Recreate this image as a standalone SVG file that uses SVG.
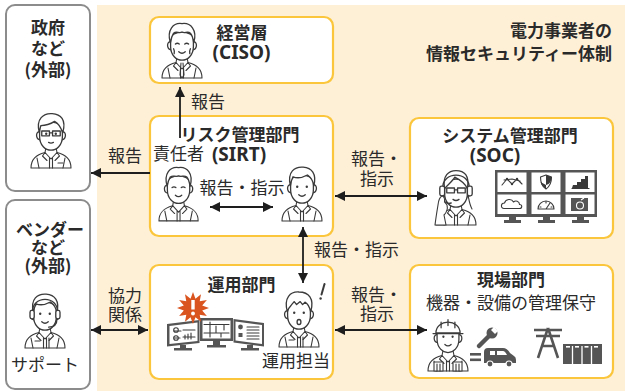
<svg xmlns="http://www.w3.org/2000/svg" xmlns:xlink="http://www.w3.org/1999/xlink" width="625" height="391" viewBox="0 0 625 391">
  <style>
    .t { font-family: "Noto Sans CJK JP", "Noto Sans", sans-serif; fill: #2a2a2a; font-size: 17px; }
    .b { font-weight: bold; }
    .lat { font-family: "Noto Sans", "Noto Sans CJK JP", sans-serif; font-weight: bold; font-size: 19px; fill: #2a2a2a; }
    .ext { fill: #ffffff; stroke: #8c8c8c; stroke-width: 2; }
    .node { fill: #ffffff; stroke: #fbc63c; stroke-width: 2.2; }
    .ln { fill: #ffffff; stroke: #3a3a3a; stroke-width: 1.1; stroke-linejoin: round; stroke-linecap: round; }
    .lo { fill: none; stroke: #3a3a3a; stroke-width: 1.1; stroke-linejoin: round; stroke-linecap: round; }
    .dk { fill: #555555; }
    .conn { fill: none; stroke: #1e1e1e; stroke-width: 1.8; }
  </style>
  <defs>
    <marker id="arrow" viewBox="0 0 10 10" refX="10" refY="5" markerWidth="10" markerHeight="10" markerUnits="userSpaceOnUse" orient="auto-start-reverse">
      <path d="M0,0 L10,5 L0,10 Z" fill="#1e1e1e"/>
    </marker>
    <!-- shoulders, neck and collar of a bust figure (44 x 56 box) -->
    <g id="body">
      <path class="ln" d="M2,56 C2,47 7,43 16,40.5 L17.5,33 H26.5 L28,40.5 C37,43 42,47 42,56 Z"/>
      <path class="lo" d="M16,40.5 L22,47 L28,40.5 M16,40.5 L13.5,44 L18,48.5 M28,40.5 L30.5,44 L26,48.5 M20.5,46 V56 M23.5,46 V56 M8,46 L10,56 M36,46 L34,56"/>
    </g>
    <!-- face outline with ears -->
    <g id="face">
      <path class="ln" d="M12.8,20 C9,19.5 9,26.5 13,26.8 M31.2,20 C35,19.5 35,26.5 31,26.8"/>
      <path class="ln" d="M12.5,18 C12.5,10 31.5,10 31.5,18 V24 C31.5,31.5 26.5,35.5 22,35.5 C17.5,35.5 12.5,31.5 12.5,24 Z"/>
    </g>
    <path id="hairShort" class="ln" d="M12.3,21 C9.5,9 16,5 23,5.5 C30,6 34.5,11 31.8,21 C31,15 28.5,13.5 26.5,12 C22,14.5 17,14.5 14.5,13.5 C13.3,16 12.7,18 12.3,21 Z"/>
    <path id="hairOld" class="ln" d="M12.3,21 C9,10 15,4 22,5 C29,4 35,10 31.8,21 C31,16 30,14 29,13 C26.5,11 24.5,13.5 22,12 C19.5,13.5 17.5,11 15,13 C13.7,15 12.8,18 12.3,21 Z"/>
    <path id="smile" class="lo" d="M19.3,28.5 Q22,31 24.7,28.5"/>
    <path id="eyesShut" class="lo" d="M16.5,22 q1.6,-1.3 3.2,0 M24.3,22 q1.6,-1.3 3.2,0"/>
    <g id="eyesDot" fill="#3a3a3a"><circle cx="18" cy="21.8" r="1"/><circle cx="26" cy="21.8" r="1"/></g>
    <path id="glasses" class="lo" d="M14.3,19.5 h6.4 v4 h-6.4 Z M23.3,19.5 h6.4 v4 h-6.4 Z M20.7,21 h2.6"/>
  </defs>

  <!-- company background -->
  <rect x="97" y="5" width="528" height="386" fill="#fef0d6"/>
  <text class="t b" text-anchor="end"><tspan x="612" y="37">電力事業者の</tspan><tspan x="612" y="60">情報セキュリティー体制</tspan></text>

  <!-- government (external) -->
  <g id="gov">
    <rect class="ext" x="6" y="5" width="84" height="186" rx="9"/>
    <text class="t b" text-anchor="middle"><tspan x="48" y="33.5">政府</tspan><tspan x="48" y="55">など</tspan><tspan x="48" y="75.5">(外部)</tspan></text>
    <g transform="translate(29,112)">
      <use href="#body"/>
      <g transform="translate(22,22) scale(1.2) translate(-22,-22)">
        <use href="#face"/>
        <path class="ln" d="M12.3,21 C9,9 16,4.5 23,5 C30,5.5 35,10 31.8,21 C30,16 28,13 25,11.5 C21,14 16.5,15 13.5,15 C12.8,17 12.5,19 12.3,21 Z"/>
        <use href="#glasses"/>
        <use href="#eyesDot"/>
        <path class="lo" d="M20,29 Q22,30.2 24,29"/>
      </g>
      <path class="lo" d="M29,51 h5"/>
    </g>
  </g>

  <!-- vendor (external) -->
  <g id="vendor">
    <rect class="ext" x="6" y="200" width="84" height="189" rx="9"/>
    <text class="t b" text-anchor="middle"><tspan x="50" y="235.5">ベンダー</tspan><tspan x="48" y="253.5">など</tspan><tspan x="48" y="271.5">(外部)</tspan></text>
    <g transform="translate(23,292)">
      <use href="#body"/>
      <g transform="translate(22,22) scale(1.2) translate(-22,-22)">
        <use href="#face"/>
        <use href="#hairShort"/>
        <path class="lo" d="M11.5,21 C10.5,6 33.5,6 32.5,21"/>
        <rect class="ln" x="9.5" y="19" width="3.5" height="7" rx="1.5"/>
        <rect class="ln" x="31" y="19" width="3.5" height="7" rx="1.5"/>
        <path class="lo" d="M32,26 C32,31 29,33 25,33"/>
        <use href="#eyesDot"/>
        <use href="#smile"/>
      </g>
      <path class="lo" d="M12,49 h5 M26,46 v10"/>
    </g>
    <text class="t" x="45" y="371" text-anchor="middle">サポート</text>
  </g>

  <!-- executive (CISO) -->
  <g id="ciso">
    <rect class="node" x="150" y="17" width="183" height="66" rx="9"/>
    <g transform="translate(160,22)">
      <use href="#body"/>
      <path class="lo" d="M21,41 L20,53 L22,56 L24,53 L23,41"/>
      <g transform="translate(22,22) scale(1.2) translate(-22,-22)">
        <use href="#face"/>
        <use href="#hairOld"/>
        <use href="#eyesShut"/>
        <use href="#smile"/>
        <path class="lo" d="M15,26 q1,2 0.5,4 M29,26 q-1,2 -0.5,4"/>
      </g>
    </g>
    <text class="t b" x="242" y="38.5" text-anchor="middle">経営層</text>
    <text class="lat" x="241.5" y="59" text-anchor="middle">(CISO)</text>
  </g>

  <!-- risk management (SIRT) -->
  <g id="sirt">
    <rect class="node" x="150" y="116" width="183" height="120" rx="9"/>
    <text class="t b" x="240" y="140.5" text-anchor="middle">リスク管理部門</text>
    <text class="t" x="153" y="160">責任者</text>
    <text class="lat" x="239" y="161" text-anchor="middle">(SIRT)</text>
    <g transform="translate(157,166) scale(0.98)">
      <use href="#body"/>
      <g transform="translate(22,22) scale(1.2) translate(-22,-22)">
        <use href="#face"/>
        <use href="#hairOld"/>
        <use href="#eyesShut"/>
        <use href="#smile"/>
      </g>
    </g>
    <g transform="translate(280,165)">
      <use href="#body"/>
      <g transform="translate(22,22) scale(1.2) translate(-22,-22)">
        <use href="#face"/>
        <use href="#hairShort"/>
        <use href="#eyesDot"/>
        <use href="#smile"/>
      </g>
    </g>
    <text class="t" x="242" y="193.5" text-anchor="middle">報告・指示</text>
  </g>

  <!-- system management (SOC) -->
  <g id="soc">
    <rect class="node" x="410" y="118" width="203" height="120" rx="9"/>
    <text class="t b" x="510" y="141.5" text-anchor="middle">システム管理部門</text>
    <text class="lat" x="495" y="162" text-anchor="middle">(SOC)</text>
    <g transform="translate(434,169)">
      <path class="lo" d="M11,22 C9,29 9,35 6,40 M33,22 C35,29 35,35 38,40"/>
      <use href="#body"/>
      <g transform="translate(22,22) scale(1.2) translate(-22,-22)">
        <use href="#face"/>
        <path class="ln" d="M12.5,20 C10.5,9 16,5 22,5 C29,5 33.5,9 31.5,20 C29,15 24,12 21,10.5 C19,14 15,17 12.5,20 Z"/>
        <use href="#glasses"/>
        <path class="lo" d="M19.5,29 Q22,30.8 24.5,29"/>
        <path class="lo" d="M11,20 C10,5 34,5 33,20"/>
        <rect class="ln" x="8.5" y="18" width="4" height="8" rx="1.5"/>
        <rect class="ln" x="31.5" y="18" width="4" height="8" rx="1.5"/>
        <path class="lo" d="M10.5,26 C11,31 14,33 18,32"/>
      </g>
      <path class="ln" d="M1,56 C2,48 3,42 4,36 C4.5,31 6,28 8,27 C10,27 11,30 10.5,33 L13,36 C14,40 12,44 10,46 L12,56 Z"/>
    </g>
    <!-- monitoring wall -->
    <rect class="dk" x="495" y="170" width="102" height="47"/>
    <g fill="#ffffff">
      <rect x="497.5" y="172.5" width="29" height="19.5"/>
      <rect x="531.5" y="172.5" width="29" height="19.5"/>
      <rect x="565.5" y="172.5" width="29" height="19.5"/>
      <rect x="497.5" y="194.5" width="29" height="19.5"/>
      <rect x="531.5" y="194.5" width="29" height="19.5"/>
      <rect x="565.5" y="194.5" width="29" height="19.5"/>
    </g>
    <g class="dk">
      <rect x="509" y="217" width="7" height="3"/><rect x="504" y="220" width="17" height="3"/>
      <rect x="543" y="217" width="7" height="3"/><rect x="538" y="220" width="17" height="3"/>
      <rect x="577" y="217" width="7" height="3"/><rect x="572" y="220" width="17" height="3"/>
    </g>
    <path class="lo" d="M502,185 L507,179 L512,184 L517,179 L522,184 M504,180 L512,179 L520,181"/>
    <g fill="#3a3a3a"><circle cx="507" cy="179" r="1.2"/><circle cx="512" cy="184" r="1.2"/><circle cx="517" cy="179" r="1.2"/></g>
    <path class="lo" d="M540.5,177 L546,175 L551.5,177 C551.5,183 549,187 546,189 C543,187 540.5,183 540.5,177 Z"/>
    <path fill="#3a3a3a" d="M546,175 L551.5,177 C551.5,181 550,184 546,185 Z M546,185 V189 C543,187 541,185 540.5,182 Z"/>
    <path fill="#3a3a3a" d="M572,188 H588 V176 H585 V179 H581 V182 H577 V185 H573 Z"/>
    <path class="lo" d="M572,188.5 H589"/>
    <path class="lo" d="M504,208.5 C500.5,208.5 500.5,203 504.5,203 C505.5,199 511.5,198 513.5,202 C515.5,200 519.5,201 519.5,204.5 C522.5,204.5 522.5,208.5 519.5,208.5 Z"/>
    <path class="lo" d="M538,209 A8,8 0 0 1 554,209 Z M546,209 L550,203 M540,207 h1 M546,202 v1 M552,207 h-1"/>
    <rect class="dk" x="571" y="198" width="17" height="13"/>
    <circle cx="580" cy="205.5" r="3.5" fill="none" stroke="#ffffff" stroke-width="1.1"/>
    <path d="M581,200 l3,-2" stroke="#ffffff" stroke-width="1.1"/>
  </g>

  <!-- operations department -->
  <g id="ops">
    <rect class="node" x="150" y="265" width="183" height="114" rx="9"/>
    <text class="t b" x="241.5" y="290.5" text-anchor="middle">運用部門</text>
    <!-- three monitors -->
    <polygon class="dk" points="167,324 199.5,320 199.5,343 167,346.5"/>
    <polygon fill="#ffffff" points="169.5,326 197.5,322.5 197.5,341 169.5,344"/>
    <path class="lo" d="M174,331 h7 M183,330 h12 M174,338 h6 M183,337 h12 M185,335 v4 M188,334 v5 M191,333 v6"/>
    <circle class="lo" cx="176" cy="330" r="2.3"/><circle class="lo" cx="176" cy="338" r="2.3"/>
    <rect class="dk" x="180" y="345" width="6" height="3"/><rect class="dk" x="174" y="348" width="18" height="2.5"/>
    <rect class="dk" x="200" y="318" width="33" height="23"/>
    <rect fill="#ffffff" x="202.5" y="320.5" width="28" height="18"/>
    <path class="lo" d="M204,324.5 H229 M204,333 H229 M210,322 V337 M216,326 V333 M216,333 h5 V337 M224,324.5 V330"/>
    <rect class="dk" x="213" y="341" width="7" height="4"/><rect class="dk" x="207" y="345" width="19" height="2.5"/>
    <polygon class="dk" points="233.5,319 264,323 264,346.5 233.5,342.5"/>
    <polygon fill="#ffffff" points="235.5,321.5 262,325 262,344 235.5,340.5"/>
    <path class="lo" d="M247,327 h12 M247,330 h12 M247,333 h12 M247,336 h12 M247,339 h12"/>
    <circle cx="240.5" cy="327" r="2.4" fill="#555555"/>
    <rect class="dk" x="238.5" y="333" width="4" height="4"/>
    <rect class="dk" x="247" y="345" width="6" height="3"/><rect class="dk" x="241" y="348" width="18" height="2.5"/>
    <!-- alert burst -->
    <polygon fill="#d9541e" points="193,292 195.46,298.82 201,294.14 199.72,301.28 206.86,300 202.18,305.54 209,308 202.18,310.46 206.86,316 199.72,314.72 201,321.86 195.46,317.18 193,324 190.54,317.18 185,321.86 186.28,314.72 179.14,316 183.82,310.46 177,308 183.82,305.54 179.14,300 186.28,301.28 185,294.14 190.54,298.82"/>
    <rect x="191.3" y="300" width="3.4" height="9.5" fill="#ffffff"/>
    <circle cx="193" cy="313.5" r="1.9" fill="#ffffff"/>
    <!-- operator -->
    <g transform="translate(277,291)">
      <use href="#body"/>
      <g transform="translate(22,22) scale(1.2) translate(-22,-22)">
        <use href="#face"/>
        <path class="ln" d="M12.3,21 C9,9 15,4 22,4.5 C30,4.5 35,10 31.8,21 C30.5,16 29,14 27,13 L25,15 L23,12.5 L20,15 L18,12.5 L15.5,15.5 C14,17 12.8,19 12.3,21 Z"/>
        <use href="#eyesDot"/>
        <ellipse class="lo" cx="22" cy="29.5" rx="1.6" ry="2.1"/>
      </g>
      <path class="lo" d="M12,49 h5 M26,46 v10"/>
    </g>
    <path d="M324.5,284 L321.5,294.5" stroke="#3a3a3a" stroke-width="2" stroke-linecap="round"/>
    <circle cx="320.6" cy="298.5" r="1.2" fill="#3a3a3a"/>
    <text class="t" x="296" y="366.5" text-anchor="middle">運用担当</text>
  </g>

  <!-- field department -->
  <g id="field">
    <rect class="node" x="410" y="265" width="203" height="113" rx="9"/>
    <text class="t b" x="511" y="285.5" text-anchor="middle">現場部門</text>
    <text class="t" x="511" y="308.5" text-anchor="middle">機器・設備の管理保守</text>
    <g transform="translate(426,315)">
      <use href="#body"/>
      <g transform="translate(22,22) scale(1.15) translate(-22,-22)">
        <use href="#face"/>
        <path class="ln" d="M11.5,18.5 C11.5,6 32.5,6 32.5,18.5 Z"/>
        <path class="lo" d="M9,19 H35 M22,7 V12 M16,9 V14 M28,9 V14"/>
        <use href="#eyesDot"/>
        <use href="#smile"/>
      </g>
      <rect class="ln" x="8" y="47" width="9" height="9"/>
      <rect class="ln" x="27" y="47" width="9" height="9"/>
      <path class="lo" d="M11,49 v7 M14,49 v7 M30,49 v7 M33,49 v7"/>
    </g>
    <!-- wrench -->
    <path d="M479,346 L489,336" stroke="#555555" stroke-width="4.5" stroke-linecap="round"/>
    <circle cx="492" cy="333" r="5.5" fill="#555555"/>
    <path d="M494,327 L498,331 L495,334 L491,330 Z" fill="#ffffff"/>
    <rect class="dk" x="470" y="353" width="11" height="2.6"/>
    <rect class="dk" x="470" y="358.5" width="11" height="2.6"/>
    <!-- service van -->
    <path class="dk" d="M484,363 V352 Q484,348 488,348 H503 Q507,348 510,353 L514,356 Q516,357 516,360 V363 Z"/>
    <path fill="#ffffff" d="M490,351 H495 V355 H490 Z M497,351 H503 Q505,351 507,355 H497 Z"/>
    <circle cx="490" cy="364" r="3" fill="#555555" stroke="#ffffff" stroke-width="1.2"/>
    <circle cx="509" cy="364" r="3" fill="#555555" stroke="#ffffff" stroke-width="1.2"/>
    <!-- transmission tower -->
    <path d="M534,330 H562 M536,336 H560 M548,328 L538,358 M548,328 L558,358 M542,346 H554" stroke="#555555" stroke-width="2.6" fill="none"/>
    <!-- substation -->
    <rect class="dk" x="563" y="344" width="39" height="20"/>
    <path d="M572.5,346 V364 M582,346 V364 M591.5,346 V364" stroke="#ffffff" stroke-width="1.3"/>
    <g fill="#ffffff"><rect x="566" y="346" width="4" height="1.6"/><rect x="575" y="346" width="4" height="1.6"/><rect x="584.5" y="346" width="4" height="1.6"/><rect x="594" y="346" width="4" height="1.6"/></g>
  </g>

  <!-- connectors -->
  <g id="connectors">
    <path class="conn" d="M150,173 H91" marker-end="url(#arrow)"/>
    <path class="conn" d="M180,138 V87" marker-end="url(#arrow)"/>
    <path class="conn" d="M210,207 H273" marker-start="url(#arrow)" marker-end="url(#arrow)"/>
    <path class="conn" d="M335,196 H427" marker-start="url(#arrow)" marker-end="url(#arrow)"/>
    <path class="conn" d="M303,227 V283" marker-start="url(#arrow)" marker-end="url(#arrow)"/>
    <path class="conn" d="M335,330 H427" marker-start="url(#arrow)" marker-end="url(#arrow)"/>
    <path class="conn" d="M91,330 H148" marker-start="url(#arrow)" marker-end="url(#arrow)"/>
    <text class="t" x="108" y="161.5">報告</text>
    <text class="t" x="191" y="107.5">報告</text>
    <text class="t"><tspan x="351" y="165">報告・</tspan><tspan x="360" y="185">指示</tspan></text>
    <text class="t" x="314" y="255.5">報告・指示</text>
    <text class="t"><tspan x="351" y="301">報告・</tspan><tspan x="360" y="320">指示</tspan></text>
    <text class="t"><tspan x="108" y="301.5">協力</tspan><tspan x="108" y="320.5">関係</tspan></text>
  </g>
</svg>
